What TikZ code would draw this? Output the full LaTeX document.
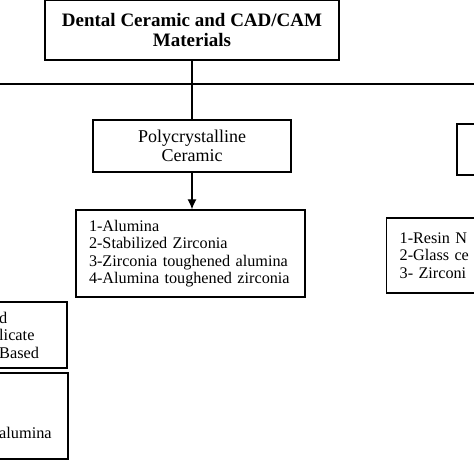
\documentclass[tikz,border=0pt]{standalone}
\usepackage{fontspec}
\setmainfont{Liberation Serif}
\usepackage{tikz}
\usetikzlibrary{calc,positioning,arrows.meta}

\begin{document}
\begin{tikzpicture}[x=1pt,y=-1pt]
\tikzstyle{box}=[draw,line width=1.3pt,inner sep=0pt]
\tikzstyle{lst}=[box,align=left,inner xsep=13pt,font=\fontsize{16.2}{17.5}\selectfont]
\useasboundingbox (0,0) rectangle (474,474);
\clip (0,0) rectangle (474,474);

\coordinate (busL) at (-5,84);
\coordinate (busR) at (480,84);

\node[box,line width=1.6pt,minimum width=294pt,minimum height=60pt,align=center,font=\fontsize{19}{20}\selectfont\bfseries] (top) at (192,30) {Dental Ceramic and CAD/CAM\\Materials};
\node[box,minimum width=198pt,minimum height=52pt,align=center,font=\fontsize{18}{19}\selectfont] (poly) at (192,146) {Polycrystalline\\Ceramic};
\node[box,minimum width=220pt,minimum height=51pt] (rbox) at (567,149.5) {};

\node[lst,text width=203pt,minimum height=87pt] (polylist) at (190.5,253.5) {1-Alumina\\2-Stabilized Zirconia\\3-Zirconia toughened alumina\\\mbox{4-Alumina toughened zirconia}};
\node[lst,text width=200pt,minimum height=75pt,anchor=west] (rlist) at (386,255.5) {1-Resin N\\2-Glass ce\\3- Zirconi};

\node[box,minimum width=69pt,minimum height=66pt] (lbox) at (32.5,335) {};
\node[anchor=west,align=left,inner sep=0pt,font=\fontsize{16.3}{17.5}\selectfont] (ltxt) at (-1,335) {d\\licate\\Based};
\node[box,minimum width=70pt,minimum height=86pt] (lbox2) at (33,416) {};
\node[anchor=west,inner sep=0pt,font=\fontsize{16.3}{17.5}\selectfont] (ltxt2) at (-1,433) {alumina};

\draw[line width=1.2pt] (busL) -- (busR);
\draw[line width=1.2pt] (top) -- (poly);
\draw[line width=1.2pt,->,>={Latex[length=10pt,width=9pt]}] (poly.south) -- (poly.south |- polylist.north);
\end{tikzpicture}
\end{document}
